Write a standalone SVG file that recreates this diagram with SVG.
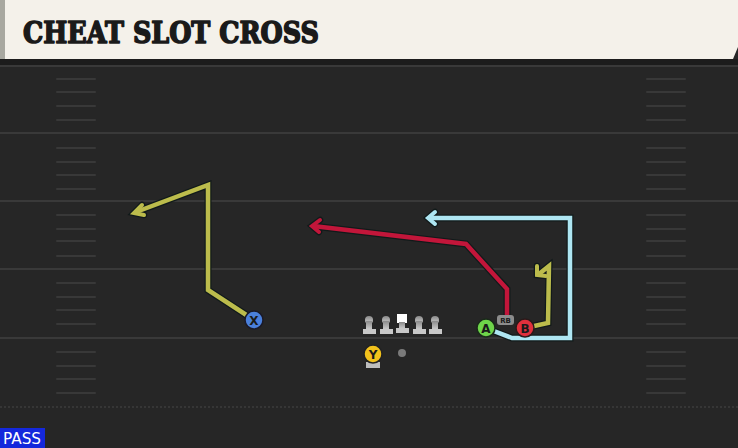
<svg xmlns="http://www.w3.org/2000/svg" width="738" height="448" viewBox="0 0 738 448">
<defs>
<style>
.yard{stroke:#393939;stroke-width:2}
.hash{stroke:#383838;stroke-width:2;stroke-linecap:round}
.rt{fill:none;stroke-width:4.5;stroke-linejoin:miter;stroke-linecap:butt}
.out{fill:none;stroke:#111a1a;stroke-width:7;stroke-linejoin:miter}
.hd{fill:none;stroke-width:4;stroke-linejoin:miter;stroke-linecap:round}
.hdo{fill:none;stroke:#111a1a;stroke-width:6.5;stroke-linejoin:miter;stroke-linecap:round}
.lbl{font-family:"DejaVu Sans","Liberation Sans",sans-serif;font-weight:bold;text-anchor:middle}
.ol{fill:#c8c8c8}
</style>
<linearGradient id="hg" x1="0" y1="0" x2="0" y2="1"><stop offset="0" stop-color="#8a8a8a"/><stop offset="1" stop-color="#d0d0d0"/></linearGradient>
</defs>
<rect x="0" y="0" width="738" height="448" fill="#262626"/>
<rect x="0" y="59" width="738" height="7" fill="#1c1c1c"/>
<g id="field">
<line class="yard" x1="0" y1="66" x2="738" y2="66"/>
<line class="yard" x1="0" y1="133" x2="738" y2="133"/>
<line class="yard" x1="0" y1="201" x2="738" y2="201"/>
<line class="yard" x1="0" y1="269" x2="738" y2="269"/>
<line class="yard" x1="0" y1="338" x2="738" y2="338"/>
<line x1="0" y1="407" x2="738" y2="407" stroke="#3c3c3c" stroke-width="1.5" stroke-dasharray="2 2"/>
<g id="hashL">
<line class="hash" x1="57" y1="79" x2="95" y2="79"/><line class="hash" x1="57" y1="92" x2="95" y2="92"/><line class="hash" x1="57" y1="106" x2="95" y2="106"/><line class="hash" x1="57" y1="120" x2="95" y2="120"/>
<line class="hash" x1="57" y1="148" x2="95" y2="148"/><line class="hash" x1="57" y1="162" x2="95" y2="162"/><line class="hash" x1="57" y1="175" x2="95" y2="175"/><line class="hash" x1="57" y1="189" x2="95" y2="189"/>
<line class="hash" x1="57" y1="215" x2="95" y2="215"/><line class="hash" x1="57" y1="229" x2="95" y2="229"/><line class="hash" x1="57" y1="241" x2="95" y2="241"/><line class="hash" x1="57" y1="256" x2="95" y2="256"/>
<line class="hash" x1="57" y1="283" x2="95" y2="283"/><line class="hash" x1="57" y1="297" x2="95" y2="297"/><line class="hash" x1="57" y1="310" x2="95" y2="310"/><line class="hash" x1="57" y1="324" x2="95" y2="324"/>
<line class="hash" x1="57" y1="352" x2="95" y2="352"/><line class="hash" x1="57" y1="366" x2="95" y2="366"/><line class="hash" x1="57" y1="379" x2="95" y2="379"/><line class="hash" x1="57" y1="393" x2="95" y2="393"/>
</g>
<use href="#hashL" x="590"/>
</g>
<g id="header">
<path d="M0 0 H738 V47 L733 59 H0 Z" fill="#f4f1ea"/>
<rect x="0" y="0" width="5" height="59" fill="#a8a8a0"/>
<text x="23" y="43" font-family="'DejaVu Serif','Liberation Serif',serif" font-weight="bold" font-size="29" textLength="296" lengthAdjust="spacingAndGlyphs" fill="#1a1a1a" stroke="#1a1a1a" stroke-width="1.6" stroke-linejoin="round">CHEAT SLOT CROSS</text>
</g>
<g id="connectors">
<g id="route-x">
<polyline class="out" points="254,320 208,290 208,185 136,212"/>
<polyline class="hdo" points="142,205 134,213 144,215"/>
<polyline class="rt" stroke="#bcbc4c" points="254,320 208,290 208,185 136,212"/>
<polyline class="hd" stroke="#bcbc4c" points="142,205 134,213 144,215"/>
</g>
<g id="route-rb">
<polyline class="out" points="507,316 507,289 466,244 313,226"/>
<polyline class="hdo" points="320,220 312,226 319,232"/>
<polyline class="rt" stroke="#c2163a" points="507,316 507,289 466,244 313,226"/>
<polyline class="hd" stroke="#c2163a" points="320,220 312,226 319,232"/>
</g>
<g id="route-a">
<polyline class="out" points="486,328 512,338 570,338 570,218 429,218"/>
<polyline class="hdo" points="435,212 428,218 435,224"/>
<polyline class="rt" stroke="#aee6f2" points="486,328 512,338 570,338 570,218 429,218"/>
<polyline class="hd" stroke="#aee6f2" points="435,212 428,218 435,224"/>
</g>
<g id="route-b">
<polyline class="out" points="525,328 548,323 549,266 539,274"/>
<polyline class="hdo" points="537,266 537,275 546,276"/>
<polyline class="rt" stroke="#bcbc4c" points="525,328 548,323 549,266 539,274"/>
<polyline class="hd" stroke="#bcbc4c" points="537,266 537,275 546,276"/>
</g>
</g>
<g id="oline">
<g id="ol1"><circle cx="369" cy="320" r="4" fill="url(#hg)"/><rect x="366" y="321" width="6" height="9" fill="url(#hg)"/><rect x="363" y="329" width="13" height="5" class="ol"/></g>
<g id="ol2"><circle cx="386" cy="320" r="4" fill="url(#hg)"/><rect x="383" y="321" width="6" height="9" fill="url(#hg)"/><rect x="380" y="329" width="13" height="5" class="ol"/></g>
<g id="center"><rect x="397" y="314" width="10" height="9" fill="#ffffff"/><rect x="399" y="322" width="6" height="7" fill="url(#hg)"/><rect x="396" y="328" width="13" height="5" class="ol"/></g>
<g id="ol4"><circle cx="419" cy="320" r="4" fill="url(#hg)"/><rect x="416" y="321" width="6" height="9" fill="url(#hg)"/><rect x="413" y="329" width="13" height="5" class="ol"/></g>
<g id="ol5"><circle cx="435" cy="320" r="4" fill="url(#hg)"/><rect x="432" y="321" width="6" height="9" fill="url(#hg)"/><rect x="429" y="329" width="13" height="5" class="ol"/></g>
</g>
<g id="ball"><circle cx="402" cy="353" r="4" fill="#7a7a7a"/></g>
<g id="player-y">
<rect x="366" y="362" width="14" height="6" fill="#bdbdbd"/>
<circle cx="373" cy="354" r="9" fill="#f2c21c" stroke="#222" stroke-width="1.5"/>
<text class="lbl" x="373" y="359" font-size="12" fill="#1a1a1a">Y</text>
</g>
<g id="player-x">
<circle cx="254" cy="320" r="9" fill="#4a80dc" stroke="#1a1a2a" stroke-width="1.5"/>
<text class="lbl" x="254" y="325" font-size="12" fill="#1a1a1a">X</text>
</g>
<g id="player-rb">
<rect x="497" y="315" width="17" height="10" rx="3" fill="#8c8c8c"/>
<text class="lbl" x="505.5" y="323" font-size="7" fill="#1a1a1a">RB</text>
</g>
<g id="player-a">
<circle cx="486" cy="328" r="9" fill="#6ed44a" stroke="#1a2a1a" stroke-width="1.5"/>
<text class="lbl" x="486" y="333" font-size="12" fill="#1a1a1a">A</text>
</g>
<g id="player-b">
<circle cx="525" cy="328" r="9" fill="#e0303c" stroke="#2a1a1a" stroke-width="1.5"/>
<text class="lbl" x="525" y="333" font-size="12" fill="#1a1a1a">B</text>
</g>
<g id="pass">
<rect x="0" y="428" width="45" height="20" fill="#1428dc"/>
<text x="3" y="444" font-family="'DejaVu Sans','Liberation Sans',sans-serif" font-size="15" fill="#ffffff" textLength="38" lengthAdjust="spacingAndGlyphs">PASS</text>
</g>
</svg>
